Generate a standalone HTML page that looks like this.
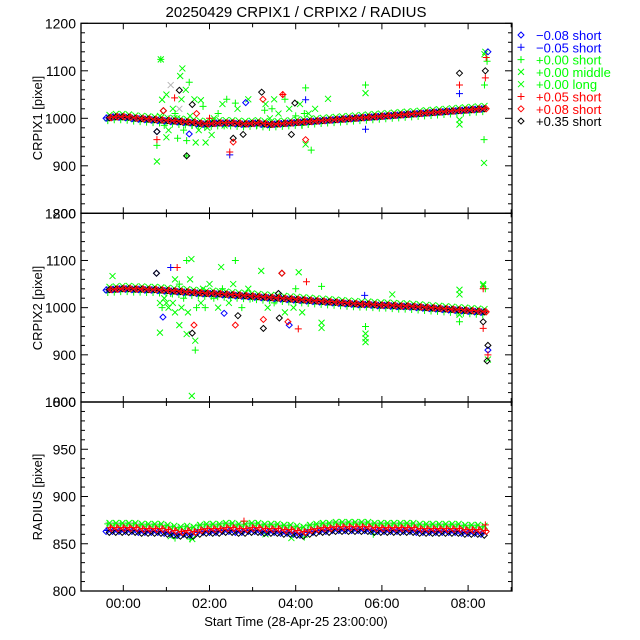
<!DOCTYPE html>
<html><head><meta charset="utf-8"><style>
html,body{margin:0;padding:0;background:#fff;}
svg{display:block;font-family:"Liberation Sans",sans-serif;}
</style></head><body>
<svg id="chart" width="640" height="640" viewBox="0 0 640 640" xmlns="http://www.w3.org/2000/svg">
<rect x="0" y="0" width="640" height="640" fill="#fff"/>
<text x="296" y="17" font-size="15" text-anchor="middle" fill="#000">20250429 CRPIX1 / CRPIX2 / RADIUS</text>
<text x="296" y="626" font-size="13" text-anchor="middle" fill="#000">Start Time (28-Apr-25 23:00:00)</text>
<text transform="translate(42,118) rotate(-90)" font-size="13" text-anchor="middle">CRPIX1 [pixel]</text>
<text transform="translate(42,308) rotate(-90)" font-size="13" text-anchor="middle">CRPIX2 [pixel]</text>
<text transform="translate(42,497) rotate(-90)" font-size="13" text-anchor="middle">RADIUS [pixel]</text>
<g id="marks"></g>
<g id="axes"></g>
<g id="legend"></g>
</svg>
<script>
const times = [-0.4,-0.25,-0.1,0.05,0.2,0.35,0.5,0.65,0.8,0.95,1.1,1.25,1.4,1.55,1.7,1.85,2.0,2.15,2.3,2.45,2.6,2.75,2.9,3.05,3.2,3.35,3.5,3.65,3.8,3.95,4.1,4.25,4.4,4.55,4.7,4.85,5.0,5.15,5.3,5.45,5.6,5.75,5.9,6.05,6.2,6.35,6.5,6.65,6.8,6.95,7.1,7.25,7.4,7.55,7.7,7.85,8.0,8.15,8.3];
const crpix1Base = [1001,1003,1003,1002,1000,999,998,997,996,995,994,993,992,991,989,988,989,990,990,990,989,988,989,990,988,987,988,989,990,991,992,993,994,995,996,997,998,999,1000,1001,1002,1003,1004,1005,1006,1007,1008,1009,1010,1011,1012,1013,1014,1015,1016,1017,1018,1019,1020];
const crpix2Base = [1038,1039,1040,1040,1039,1039,1038,1038,1037,1036,1035,1034,1033,1032,1031,1030,1030,1029,1028,1027,1026,1025,1024,1023,1022,1021,1020,1019,1018,1017,1016,1015,1014,1013,1012,1011,1010,1009,1008,1007,1007,1006,1005,1005,1004,1003,1003,1002,1001,1000,999,998,997,996,995,994,993,992,991];
const radiusBase = [866,866,866,866,866,865,865,865,865,864,863,862,863,862,864,865,865,865,866,866,865,865,866,866,865,865,865,864,864,863,862,864,865,866,866,867,867,867,867,867,867,866,866,866,866,866,866,866,865,865,865,865,865,865,865,864,864,864,863];
// series: 0 blue diamond,1 blue plus,2 green plus,3 grey x,4 green x,5 red plus,6 red diamond,7 black diamond
const seriesLabels = ["\u22120.08 short","\u22120.05 short","+0.00 short","+0.00 middle","+0.00 long","+0.05 short","+0.08 short","+0.35 short"];
const seriesTimeShift = [0.0,0.02,0.04,0.06,0.08,0.1,0.12,0.075];
const offsetsXY = [-1,0,-6,1,6,1,0,0];
const offsetsRadius = [-3,-2,5,4,6,1,0,-4];
const out1T = [0.87,0.87,0.78,0.78,0.78,0.78,0.78,0.93,0.93,0.9,1.19,1.3,1.37,1.32,1.53,1.47,1.47,1.47,1.26,1.53,1.68,1.91,1.8,1.6,2.47,2.47,2.55,2.55,2.78,2.84,2.6,3.21,3.24,3.28,3.7,3.7,3.98,3.9,4.23,4.23,4.23,4.23,4.36,4.75,5.62,5.62,5.62,7.8,7.8,7.8,7.8,7.8,8.38,8.42,8.46,8.4,8.4,8.38,8.37,8.37,1.1,1.0,2.1,2.3,3.5,4.45,
  0.85,0.95,1.05,1.15,1.2,1.25,1.35,1.4,1.45,1.55,1.6,1.65,1.75,1.85,1.95,2.05,2.2,2.35,2.4,2.65,2.9,3.1,3.3,3.45,3.6,3.75,3.85,4.0,4.1,4.15,4.3,1.0,1.1,1.3,1.45,1.7,2.0,3.4,4.2,8.4,8.44];
const out1V = [1124,1124,972,972,955,943,909,1016,1016,1039,1043,1059,1105,1089,1076,921,921,953,958,967,949,949,1038,1029,923,929,958,950,966,1033,1032,1055,1040,1017,1050,1050,1032,966,1039,1064,955,945,933,1041,1070,1053,977,1095,1070,1052,997,987,1135,1128,1140,1100,1085,1070,955,906,1070,960,1000,1030,1040,1020,
  1005,985,975,1020,1010,1000,1040,975,1060,1005,985,1040,975,1025,980,965,1010,985,1040,1020,1040,985,1030,1020,1010,1040,1020,1005,1030,985,1010,1050,1000,1020,990,1010,1000,1000,1010,1140,1120];
const out1S = [4,2,7,0,5,2,4,6,7,4,5,7,4,4,2,7,2,2,2,0,4,4,4,7,1,5,7,6,7,0,2,7,6,2,6,5,7,7,1,2,6,4,2,4,2,4,1,7,5,1,4,4,4,5,0,7,5,2,2,4,3,4,4,4,4,4,
  4,2,4,4,2,4,4,2,4,4,2,4,4,2,4,4,2,4,2,4,4,2,4,2,4,2,4,2,4,2,4,4,3,3,4,6,5,4,2,4,2];
const out2T = [1.59,0.77,0.77,1.1,1.25,1.47,1.58,-0.25,0.85,0.92,1.3,1.47,1.64,1.6,1.67,1.67,2.27,2.6,2.6,2.66,2.34,3.2,3.68,3.68,3.25,3.25,3.6,3.62,3.82,3.85,4.06,4.07,4.25,4.6,4.6,4.6,5.6,5.62,5.62,5.62,5.62,6.24,7.8,7.8,7.8,7.8,8.35,8.35,8.35,8.35,8.46,8.46,8.46,8.46,8.44,1.0,1.2,1.9,2.0,
  0.85,0.9,0.95,1.05,1.1,1.15,1.2,1.3,1.35,1.4,1.5,1.55,1.7,1.8,1.85,2.1,2.2,2.3,2.45,2.55,2.75,2.9,3.0,3.35,3.5,3.75,3.95,4.0,4.15,8.35,8.4];
const out2V = [813,1073,1073,1085,1085,1100,1103,1067,947,980,963,944,963,946,910,930,1086,1100,963,983,988,1078,1073,1073,956,975,1030,978,970,963,955,1075,1055,1045,968,957,1026,945,935,927,960,1028,1038,1028,985,970,1047,1040,970,956,920,910,900,890,887,1010,1060,1000,1050,
  1010,1000,1020,1000,1030,1010,990,1050,1000,1020,990,1060,1000,1010,1040,1020,1000,1040,1010,1050,1000,1040,1020,1000,1010,990,1000,1040,990,1050,1040];
const out2S = [4,7,0,1,5,2,4,4,4,0,4,4,6,7,2,4,4,2,6,7,0,4,7,6,7,6,7,7,6,0,5,4,5,2,4,4,1,4,4,4,2,4,4,4,4,2,4,5,7,5,7,0,5,4,7,4,4,2,4,
  4,2,4,4,2,4,4,2,4,2,4,4,2,4,4,2,4,2,4,4,2,4,2,4,2,4,4,2,4,4,2];
const out3T = [1.2,1.55,1.6,2.8,3.3,3.9,4.2,5.8,8.4,1.1];
const out3V = [856,855,855,874,860,856,857,860,870,858];
const out3S = [2,2,4,5,4,4,2,2,5,4];

const X0 = 123.3, XH = 43.1;
function xs(t){ return X0 + XH*t; }
const panels = [
  {name:"crpix1", top:23.3, bot:213.3, min:800, max:1200, major:100, minor:20, ticks:[800,900,1000,1100,1200]},
  {name:"crpix2", top:213.3, bot:402, min:800, max:1200, major:100, minor:20, ticks:[800,900,1000,1100,1200]},
  {name:"radius", top:402, bot:591, min:800, max:1000, major:50, minor:10, ticks:[800,850,900,950,1000]}
];
function ysFor(p){ return v => p.bot - (v-p.min)/(p.max-p.min)*(p.bot-p.top); }
const colors = ["#0000ff","#0000ff","#00ff00","#b4b4b4","#00ff00","#ff0000","#ff0000","#000000"];
const shapes = ["d","p","p","x","x","p","d","d"];
const NS = "http://www.w3.org/2000/svg";
const marks = document.getElementById("marks");
function marker(parent,x,y,s){
  const c = colors[s], sh = shapes[s];
  const el = document.createElementNS(NS,"path");
  let d;
  if(sh==="d") d=`M${x},${y-3}L${x+3},${y}L${x},${y+3}L${x-3},${y}Z`;
  else if(sh==="p") d=`M${x-3.5},${y}H${x+3.5}M${x},${y-3.5}V${y+3.5}`;
  else d=`M${x-3},${y-3}L${x+3},${y+3}M${x-3},${y+3}L${x+3},${y-3}`;
  el.setAttribute("d",d);
  el.setAttribute("stroke",c);
  el.setAttribute("stroke-width","1");
  el.setAttribute("fill","none");
  parent.appendChild(el);
  return el;
}
const order = [3,4,2,0,1,7,6,5];
const bases = [crpix1Base, crpix2Base, radiusBase];
const outs = [[out1T,out1V,out1S],[out2T,out2V,out2S],[out3T,out3V,out3S]];
panels.forEach((p,pi)=>{
  const ys = ysFor(p);
  const g = document.createElementNS(NS,"g");
  
  
  marks.appendChild(g);
  const base = bases[pi];
  const offs = pi===2 ? offsetsRadius : offsetsXY;
  const [oT,oV,oS] = outs[pi];
  order.forEach(s=>{
    const n = Math.min(times.length, base.length);
    for(let i=0;i<n;i++){
      const m = marker(g, xs(times[i]+seriesTimeShift[s]), ys(base[i]+offs[s]), s);
      
      
    }
    for(let i=0;i<oT.length;i++){
      if(oS[i]!==s) continue;
      const m = marker(g, xs(oT[i]), ys(oV[i]), s);
      
      
    }
  });
});
const axes = document.getElementById("axes");
const L = 81, R = 512;
function line(x1,y1,x2,y2){
  const l = document.createElementNS(NS,"line");
  l.setAttribute("x1",x1);l.setAttribute("y1",y1);l.setAttribute("x2",x2);l.setAttribute("y2",y2);
  l.setAttribute("stroke","#000");l.setAttribute("stroke-width","1");
  axes.appendChild(l); return l;
}
const xTickHours = [0,2,4,6,8];
const xTickLabels = ["00:00","02:00","04:00","06:00","08:00"];
panels.forEach((p,pi)=>{
  const ys = ysFor(p);
  const r = document.createElementNS(NS,"rect");
  r.setAttribute("x",L);r.setAttribute("y",p.top);r.setAttribute("width",R-L);r.setAttribute("height",p.bot-p.top);
  r.setAttribute("fill","none");r.setAttribute("stroke","#000");r.setAttribute("stroke-width","1.3");
  
  
  axes.appendChild(r);
  for(let v=p.min; v<=p.max; v+=p.minor){
    const y = ys(v);
    const len = (v % p.major === 0) ? 7 : 4;
    line(L,y,L+len,y); line(R,y,R-len,y);
  }
  p.ticks.forEach(v=>{
    const t = document.createElementNS(NS,"text");
    t.setAttribute("x",76);t.setAttribute("y",ys(v)+5);
    t.setAttribute("text-anchor","end");t.setAttribute("font-size","14");
    t.textContent = v;
    
    
    axes.appendChild(t);
  });
  for(let h=0; h<=9; h++){
    const x = xs(h);
    const len = (h%2===0) ? 6 : 4;
    line(x,p.bot,x,p.bot-len); line(x,p.top,x,p.top+len);
  }
});
xTickHours.forEach((h,i)=>{
  const t = document.createElementNS(NS,"text");
  t.setAttribute("x",xs(h));t.setAttribute("y",608);
  t.setAttribute("text-anchor","middle");t.setAttribute("font-size","14");
  t.textContent = xTickLabels[i];
  
  
  axes.appendChild(t);
});
const leg = document.getElementById("legend");
const legendColors = ["#0000ff","#0000ff","#00ff00","#00ff00","#00ff00","#ff0000","#ff0000","#000000"];
seriesLabels.forEach((lab,i)=>{
  const y = 35 + i*12.3;
  const m = marker(leg, 521, y, i);
  m.setAttribute("stroke", legendColors[i]);
  
  
  const t = document.createElementNS(NS,"text");
  t.setAttribute("x",536);t.setAttribute("y",y+5);
  t.setAttribute("font-size","13");t.setAttribute("fill",legendColors[i]);
  t.textContent = lab;
  
  
  leg.appendChild(t);
});
</script>
</body></html>
